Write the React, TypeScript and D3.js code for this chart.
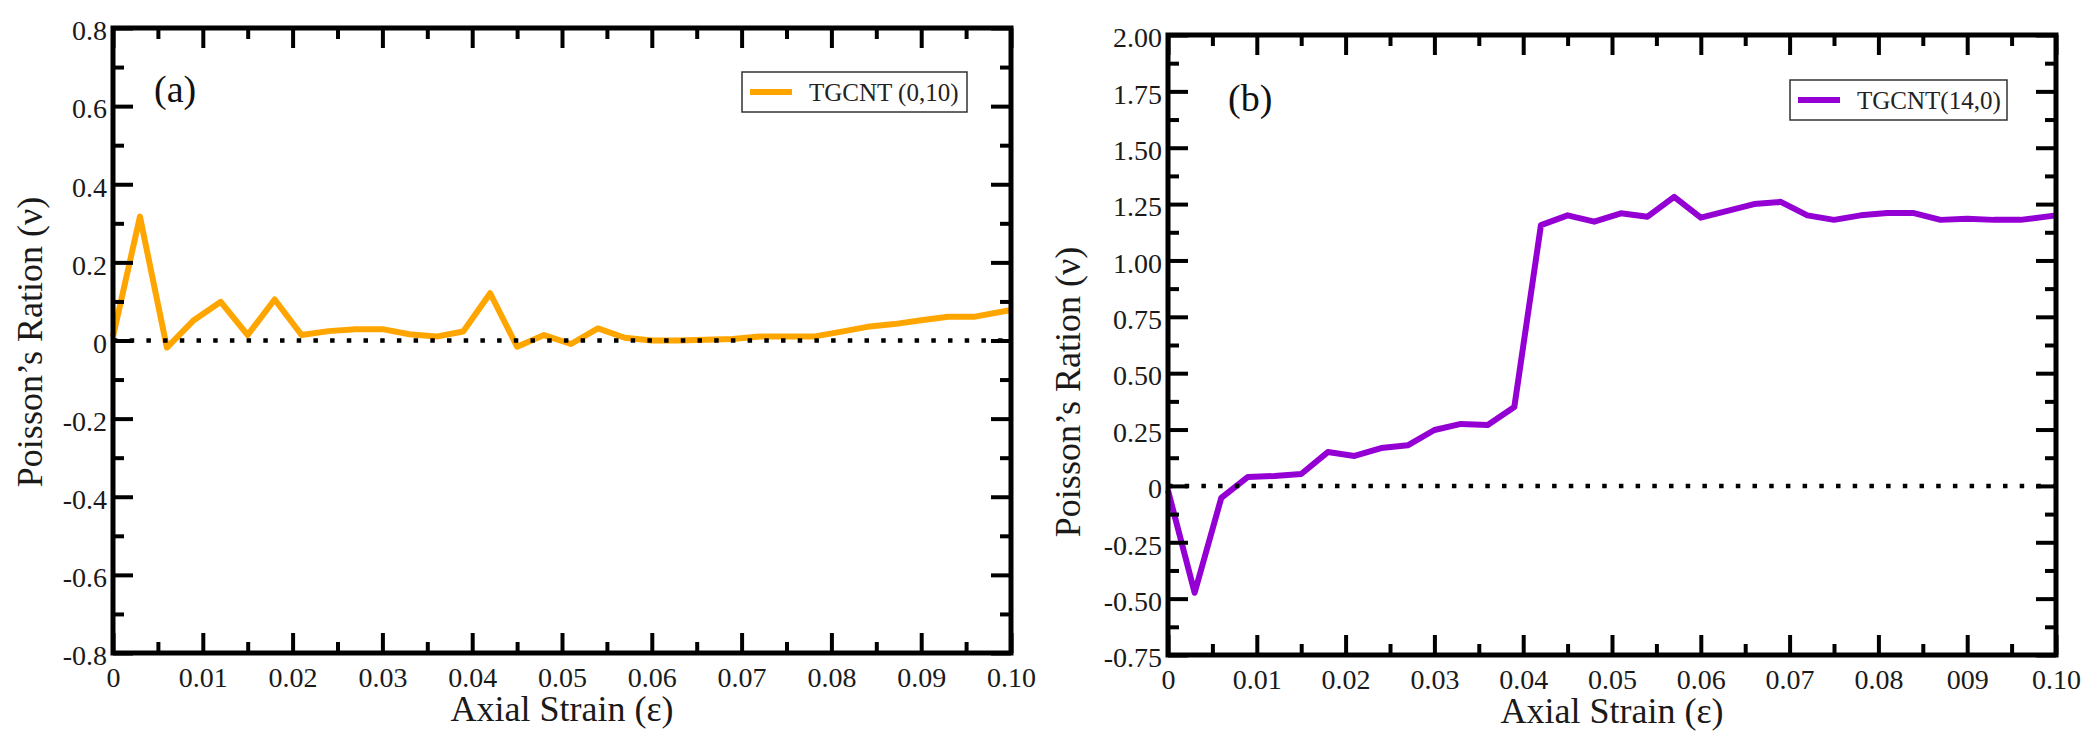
import { useEffect, useRef } from 'react';
import * as d3 from 'd3';

// axial strain samples shared by both panels
const strain = [
    0, 0.003, 0.006, 0.009, 0.012, 0.015, 0.018, 0.021, 0.024, 0.027, 0.03, 0.033,
    0.036, 0.039, 0.042, 0.045, 0.048, 0.051, 0.054, 0.057, 0.06, 0.063, 0.066,
    0.069, 0.072, 0.075, 0.078, 0.081, 0.084, 0.087, 0.09, 0.093, 0.096, 0.1,
];

// (a) TGCNT (0,10)
const poissonA = [
    0.01, 0.317, -0.018, 0.052, 0.099, 0.014, 0.105, 0.014, 0.024, 0.029, 0.029, 0.016,
    0.01, 0.023, 0.121, -0.016, 0.014, -0.009, 0.031, 0.007, 0.0, 0.0, 0.002,
    0.004, 0.01, 0.01, 0.01, 0.022, 0.035, 0.042, 0.052, 0.061, 0.061, 0.078,
];

// (b) TGCNT(14,0)
const poissonB = [
    -0.02, -0.474, -0.053, 0.04, 0.044, 0.053, 0.15, 0.133, 0.168, 0.18, 0.248, 0.275,
    0.27, 0.35, 1.157, 1.2, 1.172, 1.209, 1.194, 1.282, 1.19, 1.22, 1.25,
    1.26, 1.2, 1.18, 1.2, 1.21, 1.21, 1.18, 1.185, 1.18, 1.18, 1.2,
];

const xMajor = [0, 0.01, 0.02, 0.03, 0.04, 0.05, 0.06, 0.07, 0.08, 0.09, 0.1];
const xMinor = [0.005, 0.015, 0.025, 0.035, 0.045, 0.055, 0.065, 0.075, 0.085, 0.095];
const xLabelsA = ['0', '0.01', '0.02', '0.03', '0.04', '0.05', '0.06', '0.07', '0.08', '0.09', '0.10'];
const xLabelsB = ['0', '0.01', '0.02', '0.03', '0.04', '0.05', '0.06', '0.07', '0.08', '009', '0.10'];

const yMajorA = [-0.8, -0.6, -0.4, -0.2, 0, 0.2, 0.4, 0.6, 0.8];
const yMinorA = [-0.7, -0.5, -0.3, -0.1, 0.1, 0.3, 0.5, 0.7];
const yLabelsA = ['-0.8', '-0.6', '-0.4', '-0.2', '0', '0.2', '0.4', '0.6', '0.8'];

const yMajorB = [-0.75, -0.5, -0.25, 0, 0.25, 0.5, 0.75, 1, 1.25, 1.5, 1.75, 2];
const yMinorB = [-0.625, -0.375, -0.125, 0.125, 0.375, 0.625, 0.875, 1.125, 1.375, 1.625, 1.875];
const yLabelsB = ['-0.75', '-0.50', '-0.25', '0', '0.25', '0.50', '0.75', '1.00', '1.25', '1.50', '1.75', '2.00'];

const FONT = "'Liberation Serif', 'Times New Roman', serif";

type Panel = {
    box: [number, number, number, number]; // left, top, right, bottom
    values: number[];
    color: string;
    yDomain: [number, number];
    yMajor: number[];
    yMinor: number[];
    yLabels: string[];
    xLabels: string[];
    letter: string;
    letterPos: [number, number];
    legend: string;
    legendBox: [number, number, number, number];
    yTitlePos: [number, number];
    xTitleY: number;
};

function drawPanel(root: d3.Selection<SVGSVGElement, unknown, null, undefined>, p: Panel) {
    const [left, top, right, bottom] = p.box;
    const x = d3.scaleLinear().domain([0, 0.1]).range([left, right]);
    const y = d3.scaleLinear().domain(p.yDomain).range([bottom, top]);
    const g = root.append('g');

    const line = d3.line<number>()
        .x((_, i) => x(strain[i]))
        .y((d) => y(d));

    g.append('path')
        .datum(p.values)
        .attr('d', line)
        .attr('fill', 'none')
        .attr('stroke', p.color)
        .attr('stroke-width', 6)
        .attr('stroke-linejoin', 'round');

    // dotted zero line
    g.append('line')
        .attr('x1', x(0))
        .attr('x2', x(0.1))
        .attr('y1', y(0))
        .attr('y2', y(0))
        .attr('stroke', '#000')
        .attr('stroke-width', 4.5)
        .attr('stroke-dasharray', '4.5 12.2');

    const put = (axis: any, tx: number, ty: number) => {
        const a = g.append('g').attr('transform', `translate(${tx},${ty})`).call(axis);
        a.select('.domain').remove();
        a.style('font-family', FONT).style('font-size', '28px');
        a.selectAll('line').attr('stroke', '#000').attr('stroke-width', 4);
        a.selectAll('text')
            .style('font-family', FONT)
            .style('font-size', '28px')
            .attr('fill', '#1a1a1a');
        return a;
    };

    // x axes (ticks point inward)
    put(d3.axisBottom(x).tickValues(xMajor).tickFormat((_, i) => p.xLabels[i]).tickSize(-20).tickPadding(14), 0, bottom);
    put(d3.axisBottom(x).tickValues(xMinor).tickFormat(() => '').tickSize(-11), 0, bottom);
    put(d3.axisTop(x).tickValues(xMajor).tickFormat(() => '').tickSize(-20), 0, top);
    put(d3.axisTop(x).tickValues(xMinor).tickFormat(() => '').tickSize(-11), 0, top);

    // y axes
    const yl = put(d3.axisLeft(y).tickValues(p.yMajor).tickFormat((_, i) => p.yLabels[i]).tickSize(-20).tickPadding(6), left, 0);
    yl.selectAll('text').attr('dy', '0.42em');
    put(d3.axisLeft(y).tickValues(p.yMinor).tickFormat(() => '').tickSize(-11), left, 0);
    put(d3.axisRight(y).tickValues(p.yMajor).tickFormat(() => '').tickSize(-20), right, 0);
    put(d3.axisRight(y).tickValues(p.yMinor).tickFormat(() => '').tickSize(-11), right, 0);

    // frame
    g.append('rect')
        .attr('x', left)
        .attr('y', top)
        .attr('width', right - left)
        .attr('height', bottom - top)
        .attr('fill', 'none')
        .attr('stroke', '#000')
        .attr('stroke-width', 5);

    // panel letter
    g.append('text')
        .attr('x', p.letterPos[0])
        .attr('y', p.letterPos[1])
        .style('font-family', FONT)
        .attr('font-size', 38)
        .attr('fill', '#111')
        .text(p.letter);

    // legend
    const [lx, ly, lw, lh] = p.legendBox;
    const lg = g.append('g').attr('transform', `translate(${lx},${ly})`);
    lg.append('rect')
        .attr('width', lw)
        .attr('height', lh)
        .attr('fill', '#fff')
        .attr('stroke', '#333')
        .attr('stroke-width', 1.5);
    lg.append('line')
        .attr('x1', 8)
        .attr('x2', 50)
        .attr('y1', lh / 2)
        .attr('y2', lh / 2)
        .attr('stroke', p.color)
        .attr('stroke-width', 6);
    lg.append('text')
        .attr('x', 67)
        .attr('y', lh / 2 + 8.5)
        .style('font-family', FONT)
        .attr('font-size', 25)
        .attr('fill', '#222')
        .text(p.legend);

    // axis titles
    g.append('text')
        .attr('transform', `translate(${p.yTitlePos[0]},${p.yTitlePos[1]}) rotate(-90)`)
        .attr('text-anchor', 'middle')
        .style('font-family', FONT)
        .attr('font-size', 36)
        .attr('fill', '#1a1a1a')
        .text('Poisson’s Ration (ν)');

    g.append('text')
        .attr('x', (left + right) / 2)
        .attr('y', p.xTitleY)
        .attr('text-anchor', 'middle')
        .style('font-family', FONT)
        .attr('font-size', 36)
        .attr('fill', '#1a1a1a')
        .text('Axial Strain (ε)');
}

export default function App() {
    const ref = useRef<SVGSVGElement | null>(null);

    useEffect(() => {
        const svg = d3.select(ref.current!);
        svg.selectAll('*').remove();

        drawPanel(svg, {
            box: [113, 28, 1011, 653],
            values: poissonA,
            color: '#ffa500',
            yDomain: [-0.8, 0.8],
            yMajor: yMajorA,
            yMinor: yMinorA,
            yLabels: yLabelsA,
            xLabels: xLabelsA,
            letter: '(a)',
            letterPos: [154, 102],
            legend: 'TGCNT (0,10)',
            legendBox: [742, 72, 225, 40],
            yTitlePos: [42, 342],
            xTitleY: 721,
        });

        drawPanel(svg, {
            box: [1168, 35, 2056, 655],
            values: poissonB,
            color: '#9400d3',
            yDomain: [-0.75, 2],
            yMajor: yMajorB,
            yMinor: yMinorB,
            yLabels: yLabelsB,
            xLabels: xLabelsB,
            letter: '(b)',
            letterPos: [1228, 111],
            legend: 'TGCNT(14,0)',
            legendBox: [1790, 80, 217, 40],
            yTitlePos: [1080, 392],
            xTitleY: 723,
        });
    }, []);

    return (
        <svg
            ref={ref}
            width={2099}
            height={747}
            style={{ position: 'absolute', left: 0, top: 0, background: '#fff', display: 'block' }}
        />
    );
}
